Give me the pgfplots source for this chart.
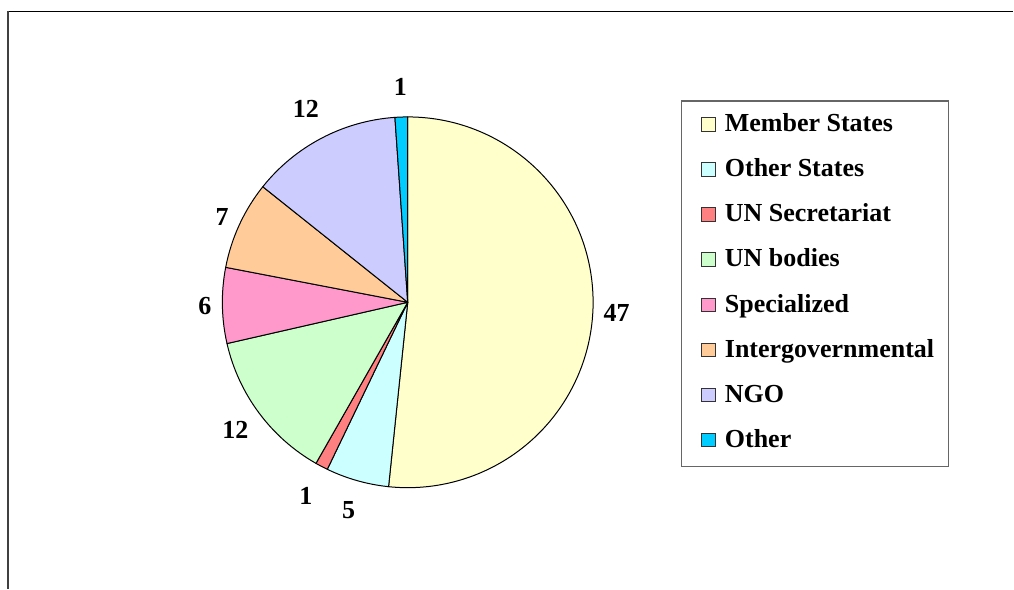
\documentclass[border=0pt]{standalone}
\usepackage{fontspec}
\setmainfont{Liberation Serif}
\usepackage{pgfplots}
\usepackage{pgfplotstable}
\pgfplotsset{compat=1.18}

% Excel 97 pastel palette
\definecolor{cMember}{HTML}{FFFFCC}
\definecolor{cOtherSt}{HTML}{CCFFFF}
\definecolor{cSecr}{HTML}{FF8080}
\definecolor{cBodies}{HTML}{CCFFCC}
\definecolor{cSpec}{HTML}{FF99CC}
\definecolor{cInter}{HTML}{FFCC99}
\definecolor{cNGO}{HTML}{CCCCFF}
\definecolor{cRest}{HTML}{00CCFF}

\pgfplotstableread[col sep=comma]{
label,value,colour
Member States,47,cMember
Other States,5,cOtherSt
UN Secretariat,1,cSecr
UN bodies,12,cBodies
Specialized,6,cSpec
Intergovernmental,7,cInter
NGO,12,cNGO
Other,1,cRest
}\shares

\newcommand\lblfont{\bfseries\fontsize{13}{15.6}\selectfont}
\def\R{92.75pt}% pie radius

\begin{document}
\begin{tikzpicture}
\begin{axis}[
  scale only axis, width=507pt, height=294.5pt,
  xmin=0, xmax=1014, ymin=0, ymax=589, y dir=reverse,
  hide axis, clip=false,
]
\pgfplotsextra{
  \path (axis cs:0,0) rectangle (axis cs:1014,589);
  % frame
  \draw[black, line width=0.7pt] (axis cs:8,11.5) -- (axis cs:1014,11.5);
  \draw[black!75, line width=1pt] (axis cs:8.3,11) -- (axis cs:8.3,589);
  % total
  \xdef\total{0}
  \pgfplotstableforeachcolumnelement{value}\of\shares\as\v{%
    \pgfmathsetmacro\tmpsum{\total+\v}\xdef\total{\tmpsum}}
  % slices, labels and legend
  \xdef\cum{0}
  \pgfplotstableforeachcolumnelement{value}\of\shares\as\v{%
    \edef\row{\pgfplotstablerow}%
    \pgfplotstablegetelem{\row}{colour}\of\shares\edef\col{\pgfplotsretval}%
    \pgfplotstablegetelem{\row}{label}\of\shares\edef\lab{\pgfplotsretval}%
    \pgfmathsetmacro\aS{90-\cum/\total*360}%
    \pgfmathsetmacro\aE{90-(\cum+\v)/\total*360}%
    \pgfmathsetmacro\aM{(\aS+\aE)/2}%
    \pgfmathtruncatemacro\aA{\aM+180}%
    \filldraw[fill=\col, draw=black, line width=0.5pt, line join=round]
      (axis cs:408,302.5) -- ++(\aS:\R) arc[start angle=\aS, end angle=\aE, radius=\R] -- cycle;
    \path (axis cs:408,302.5) ++(\aM:\R+1pt)
      node[anchor=\aA, inner xsep=4.25pt, inner ysep=9.5pt, font=\lblfont] {\v};
    \pgfmathsetmacro\yb{131.7+45.14*\row}%
    \filldraw[fill=\col, draw=black!80, line width=0.5pt]
      (axis cs:702,\yb-14) rectangle (axis cs:716,\yb-0.5);
    \node[anchor=base west, inner sep=0pt, font=\lblfont] at (axis cs:725,\yb) {\lab};
    \pgfmathsetmacro\tmpsum{\cum+\v}\xdef\cum{\tmpsum}%
  }
  % legend frame
  \draw[black!60, line width=0.8pt] (axis cs:682,101) rectangle (axis cs:949,467);
}
\end{axis}
\end{tikzpicture}
\end{document}
